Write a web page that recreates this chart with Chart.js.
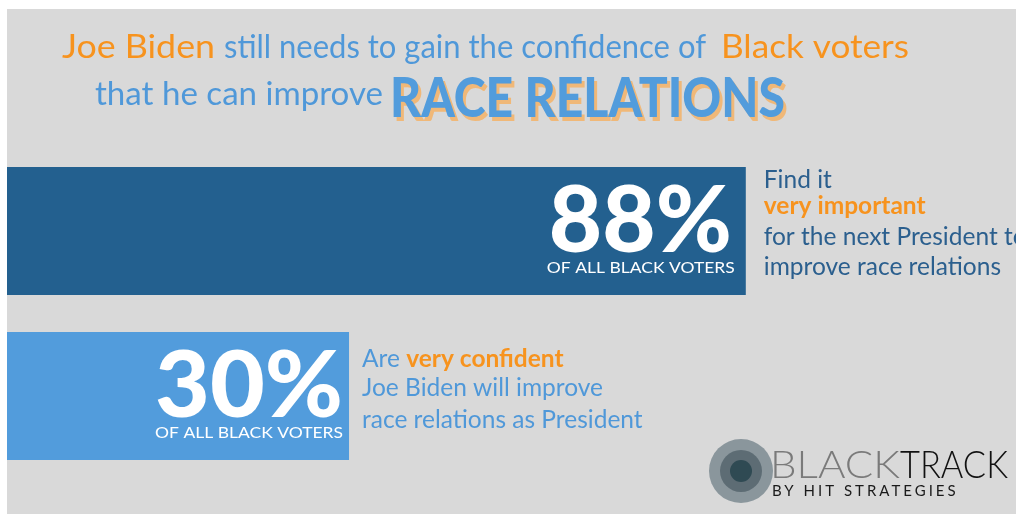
<!DOCTYPE html>
<html>
<head>
<meta charset="utf-8">
<script src="https://cdn.jsdelivr.net/npm/chart.js@4"></script>
<style>
  body { margin: 0; background: #fff; }
  #wrap { position: relative; width: 1016px; height: 514px; }
</style>
</head>
<body>
<div id="wrap"><canvas id="myChart"></canvas></div>
<script>
// dados do grafico
var categories = ['Find it very important for the next President to improve race relations',
                  'Are very confident Joe Biden will improve race relations as President'];
var shares = [88, 30];
var subLabel = 'OF ALL BLACK VOTERS';
var barColors = ['#23608f', '#529cdc'];

// textos ao lado das barras (cada linha = pedacos com cor)
var ORANGE = '#f7931e', BLUE = '#4f98d9', DARK = '#2b5f8e';
var sideNotes = [
  [
    [['Find it', DARK, false]],
    [['very important', ORANGE, true]],
    [['for the next President to', DARK, false]],
    [['improve race relations', DARK, false]]
  ],
  [
    [['Are ', BLUE, false], ['very confident', ORANGE, true]],
    [['Joe Biden will improve', BLUE, false]],
    [['race relations as President', BLUE, false]]
  ]
];

function drawFit(ctx, text, x, y, font, color, width) {
  ctx.save();
  ctx.font = font;
  ctx.fillStyle = color;
  ctx.textBaseline = 'alphabetic';
  ctx.textAlign = 'left';
  var w = ctx.measureText(text).width;
  ctx.translate(x, y);
  if (width) ctx.scale(width / w, 1);
  ctx.fillText(text, 0, 0);
  ctx.restore();
}

var background = {
  id: 'background',
  beforeDraw: function (chart) {
    var ctx = chart.ctx;
    ctx.save();
    ctx.fillStyle = '#ffffff';
    ctx.fillRect(0, 0, chart.width, chart.height);
    ctx.fillStyle = '#d9d9d9';
    ctx.fillRect(7, 9, chart.width - 7, chart.height - 9);
    ctx.restore();
  }
};

var texts = {
  id: 'texts',
  afterDatasetsDraw: function (chart) {
    var ctx = chart.ctx;
    // titulo
    drawFit(ctx, 'Joe Biden', 62, 58, '33px Lato', ORANGE, 153);
    drawFit(ctx, 'still needs to gain the confidence of', 224, 58, '33px Lato', BLUE, 482);
    drawFit(ctx, 'Black voters', 721, 58, '33px Lato', ORANGE, 188);
    drawFit(ctx, 'that he can improve', 95, 105, '33px Lato', BLUE, 288);
    drawFit(ctx, 'RACE RELATIONS', 393, 121, '900 56px Lato', '#f0b878', 395);
    drawFit(ctx, 'RACE RELATIONS', 390, 117, '900 56px Lato', '#529cdc', 395);

    // numeros dentro das barras
    var meta = chart.getDatasetMeta(0);
    meta.data.forEach(function (bar, i) {
      var right = bar.x - (i === 0 ? 14 : 6);
      var top = bar.y - bar.height / 2;
      ctx.save();
      ctx.fillStyle = '#ffffff';
      ctx.textAlign = 'right';
      ctx.textBaseline = 'alphabetic';
      ctx.font = '900 92px Lato';
      var t = shares[i] + '%';
      var w = ctx.measureText(t).width;
      var want = i === 0 ? 183 : 188;
      ctx.translate(right, top + 85);
      ctx.scale(want / w, 1);
      ctx.fillText(t, 0, 0);
      ctx.restore();
      ctx.save();
      ctx.fillStyle = '#ffffff';
      ctx.textAlign = 'right';
      ctx.font = '16px Lato';
      var sw = ctx.measureText(subLabel).width;
      ctx.translate(right + (i === 0 ? 3 : 0), top + 106);
      ctx.scale(188 / sw, 1);
      ctx.fillText(subLabel, 0, 0);
      ctx.restore();

      // notas ao lado
      var lines = sideNotes[i];
      var x0 = bar.x + (i === 0 ? 18 : 13);
      var ys = i === 0 ? [top + 21, top + 47, top + 78, top + 108] : [top + 35, top + 64, top + 96];
      lines.forEach(function (line, j) {
        var x = x0;
        line.forEach(function (seg) {
          var font = seg[2] ? 'bold 25px Lato' : '25px Lato';
          ctx.save();
          ctx.font = font;
          var w = ctx.measureText(seg[0]).width * 0.98;
          ctx.restore();
          drawFit(ctx, seg[0], x, ys[j], font, seg[1], w);
          x += w;
        });
      });
    });

    // logo
    ctx.save();
    var cx = 741, cy = 471;
    [[32, '#8a969c'], [21, '#5d6c74'], [11, '#2f4a53']].forEach(function (c) {
      ctx.beginPath();
      ctx.arc(cx, cy, c[0], 0, Math.PI * 2);
      ctx.fillStyle = c[1];
      ctx.fill();
    });
    ctx.restore();
    drawFit(ctx, 'BLACK', 770, 478, '300 38px Lato', '#7a7a7a', 130);
    drawFit(ctx, 'TRACK', 900, 478, '300 38px Lato', '#111111', 108);
    ctx.save();
    ctx.font = '15px Lato';
    ctx.fillStyle = '#1a1a1a';
    ctx.letterSpacing = '3px';
    ctx.fillText('BY HIT STRATEGIES', 772, 496);
    ctx.restore();
  }
};

var ctx = document.getElementById('myChart').getContext('2d');
var chart = new Chart(ctx, {
  type: 'bar',
  data: {
    labels: categories,
    datasets: [{
      data: shares,
      base: -20,
      backgroundColor: barColors,
      borderWidth: 0,
      barPercentage: 1,
      categoryPercentage: 128 / 165
    }]
  },
  options: {
    indexAxis: 'y',
    responsive: true,
    maintainAspectRatio: false,
    animation: false,
    layout: { padding: { left: 7, right: 0, top: 148.5, bottom: 35.5 } },
    scales: {
      x: { display: false, min: -20, max: 127.5 },
      y: { display: false }
    },
    plugins: {
      legend: { display: false },
      tooltip: { enabled: false },
      title: { display: false }
    }
  },
  plugins: [background, texts]
});
</script>
</body>
</html>
